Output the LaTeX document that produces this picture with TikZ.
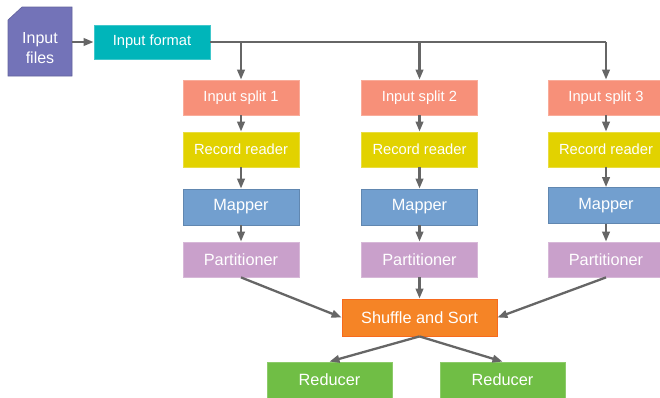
\documentclass[tikz,border=0pt]{standalone}
\usepackage{fontspec}
\setmainfont{Liberation Sans}
\usetikzlibrary{arrows.meta}
\definecolor{cfiles}{HTML}{7373B8}
\definecolor{cfmt}{HTML}{00B5BA}
\definecolor{csplit}{HTML}{F79079}
\definecolor{creader}{HTML}{E2D200}
\definecolor{cmapper}{HTML}{729FCF}
\definecolor{cpart}{HTML}{C9A0CB}
\definecolor{cshuf}{HTML}{F58426}
\definecolor{cred}{HTML}{70BE45}
\definecolor{carrow}{HTML}{666666}
\tikzset{
  box/.style={rectangle, inner sep=0pt, text=white, minimum width=116pt, minimum height=35pt, line width=0.8pt},
  smalltext/.style={font=\fontsize{14.7}{16}\selectfont},
  bigtext/.style={font=\fontsize{16.3}{18}\selectfont},
  splitbox/.style={box, smalltext, fill=csplit, draw=csplit!75!white},
  readerbox/.style={box, smalltext, fill=creader, draw=creader!75!white},
  mapperbox/.style={box, bigtext, fill=cmapper, draw=cmapper!85!black, minimum height=36pt},
  partbox/.style={box, bigtext, fill=cpart, draw=cpart!75!white},
  conn/.style={draw=carrow, line width=2.3pt, -{Triangle[length=10pt,width=7.5pt]}},
  plain/.style={draw=carrow, line width=2.3pt},
}
\begin{document}
\begin{tikzpicture}[x=1pt,y=-1pt]
\useasboundingbox (0,0) rectangle (660,397);
% input files
\fill[cfiles, draw=cfiles!85!black, line width=0.6pt] (8,76) -- (8,20) -- (22,7) -- (72,7) -- (72,76) -- cycle;
\node[text=white, align=center, font=\fontsize{16}{19.5}\selectfont, inner sep=0pt] (files) at (40,48) {Input\\files};
\coordinate (filesE) at (72,42);
\node[box, smalltext, fill=cfmt, draw=cfmt!75!white, minimum height=34pt] (fmt) at (152,42) {Input format};
\draw[conn] (filesE) -- (fmt.west);
% columns
\node[splitbox] (s1) at (241,97.5) {Input split 1};
\node[splitbox] (s2) at (419.5,97.5) {Input split 2};
\node[splitbox] (s3) at (606,97.5) {Input split 3};
\node[readerbox] (r1) at (241,149.5) {Record reader};
\node[readerbox] (r2) at (419.5,149.5) {Record reader};
\node[readerbox] (r3) at (606,149.5) {Record reader};
\node[mapperbox] (m1) at (241,207) {Mapper};
\node[mapperbox] (m2) at (419.5,207) {Mapper};
\node[mapperbox] (m3) at (606,205.5) {Mapper};
\node[partbox] (p1) at (241,259.5) {Partitioner};
\node[partbox] (p2) at (419.5,259.5) {Partitioner};
\node[partbox] (p3) at (606,259.5) {Partitioner};
\node[box, bigtext, fill=cshuf, draw=cshuf!80!red, minimum width=155pt, minimum height=37pt] (sh) at (419.5,317.5) {Shuffle and Sort};
\node[box, bigtext, fill=cred, draw=cred!80!white, minimum width=125pt, minimum height=36pt] (red1) at (329.5,380) {Reducer};
\node[box, bigtext, fill=cred, draw=cred!80!white, minimum width=125pt, minimum height=36pt] (red2) at (502.5,380) {Reducer};
% distribution line
\coordinate (j1) at (241,42);
\coordinate (j2) at (419.5,42);
\coordinate (j3) at (606,42);
\draw[plain] (fmt.east) -- (j3);
\draw[conn] (j1) -- (s1.north);
\draw[conn] (j2) -- (s2.north);
\draw[conn] (j3) -- (s3.north);
\foreach \i in {1,2,3} {
  \draw[conn] (s\i.south) -- (r\i.north);
  \draw[conn] (r\i.south) -- (m\i.north);
  \draw[conn] (m\i.south) -- (p\i.north);
}
\draw[conn] (p1.south) -- (sh.west);
\draw[conn] (p2.south) -- (sh.north);
\draw[conn] (p3.south) -- (sh.east);
\draw[conn] (sh.south) -- (red1.north);
\draw[conn] (sh.south) -- (red2.north);
\end{tikzpicture}
\end{document}
